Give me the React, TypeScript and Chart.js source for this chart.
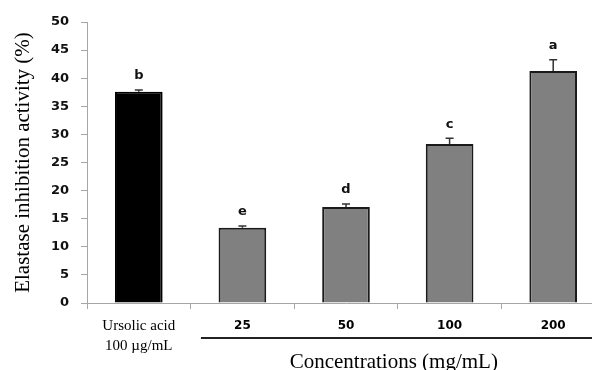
import React, { useEffect, useRef } from "react";
import { Chart, registerables } from "chart.js";

Chart.register(...registerables);

const categories: (string | string[])[] = [["Ursolic acid", "100 µg/mL"], "25", "50", "100", "200"];
const values = [37.6, 13.4, 17.1, 28.3, 41.3];
const errors = [0.3, 0.3, 0.5, 1.0, 2.0];
const letters = ["b", "e", "d", "c", "a"];
const barColors = ["#000000", "#808080", "#808080", "#808080", "#808080"];
const yTitle = "Elastase inhibition activity (%)";
const xTitle = "Concentrations (mg/mL)";

const annotPlugin = {
  id: "annot",
  afterDatasetsDraw(chart: any) {
    const ctx = chart.ctx;
    const meta = chart.getDatasetMeta(0);
    const y = chart.scales.y;
    meta.data.forEach((bar: any, i: number) => {
      const top = y.getPixelForValue(values[i]);
      const cap = y.getPixelForValue(values[i] + errors[i]);
      ctx.save();
      ctx.strokeStyle = "#333";
      ctx.lineWidth = 1.5;
      ctx.beginPath();
      ctx.moveTo(bar.x, top);
      ctx.lineTo(bar.x, cap);
      ctx.moveTo(bar.x - 4, cap);
      ctx.lineTo(bar.x + 4, cap);
      ctx.stroke();
      ctx.fillStyle = "#111";
      ctx.font = 'bold 13px "DejaVu Sans"';
      ctx.textAlign = "center";
      ctx.textBaseline = "middle";
      ctx.fillText(letters[i], bar.x, cap - 14);
      ctx.restore();
    });
  },
  afterDraw(chart: any) {
    const ctx = chart.ctx;
    const x = chart.scales.x;
    const cw = x.getPixelForValue(2) - x.getPixelForValue(1);
    const start = x.getPixelForValue(1) - 0.4 * cw;
    ctx.save();
    ctx.strokeStyle = "#222";
    ctx.lineWidth = 2;
    ctx.beginPath();
    ctx.moveTo(start, 338);
    ctx.lineTo(chart.width, 338);
    ctx.stroke();
    ctx.fillStyle = "#000";
    ctx.font = '21px "Liberation Serif"';
    ctx.textAlign = "center";
    ctx.textBaseline = "middle";
    ctx.fillText(xTitle, (x.getPixelForValue(2) + x.getPixelForValue(3)) / 2 - 4, 362);
    ctx.restore();
  },
};

export default function App() {
  const ref = useRef<HTMLCanvasElement>(null);
  useEffect(() => {
    document.body.style.margin = "0";
    const chart = new Chart(ref.current!, {
      type: "bar",
      data: {
        labels: categories as any,
        datasets: [
          {
            data: values,
            backgroundColor: barColors,
            borderColor: ["#000000", "#1a1a1a", "#1a1a1a", "#1a1a1a", "#1a1a1a"],
            borderWidth: 2,
            barPercentage: 0.46,
            categoryPercentage: 1,
          },
        ],
      },
      options: {
        responsive: false,
        animation: false,
        devicePixelRatio: 1,
        layout: { padding: { top: 22, right: 5, left: 0, bottom: 0 } },
        plugins: { legend: { display: false }, tooltip: { enabled: false } },
        scales: {
          x: {
            offset: true,
            grid: { drawOnChartArea: false, drawTicks: true, tickLength: 6, color: "#a6a6a6", offset: true },
            border: { color: "#a6a6a6", width: 1 },
            ticks: {
              padding: 7,
              color: "#000",
              maxRotation: 0,
              autoSkip: false,
              font: (c: any) =>
                c.index === 0
                  ? { family: '"Liberation Serif"', size: 15, weight: "normal", lineHeight: "20px" }
                  : { family: '"DejaVu Sans"', size: 12, weight: "bold", lineHeight: "20px" },
            },
            afterFit: (s: any) => {
              s.height = 67;
            },
          },
          y: {
            min: 0,
            max: 50,
            grid: { drawOnChartArea: false, drawTicks: true, tickLength: 6, color: "#a6a6a6" },
            border: { color: "#a6a6a6", width: 1 },
            ticks: {
              stepSize: 5,
              padding: 12,
              color: "#111",
              font: { family: '"DejaVu Sans"', size: 13, weight: "bold" },
            },
            title: {
              display: true,
              text: yTitle,
              color: "#000",
              font: { family: '"Liberation Serif"', size: 21, weight: "normal" },
              padding: { top: 11, bottom: 0 },
            },
            afterFit: (s: any) => {
              s.width = 87;
            },
          },
        },
      },
      plugins: [annotPlugin],
    });
    return () => chart.destroy();
  }, []);
  return (
    <div style={{ position: "fixed", left: 0, top: 0, width: 592, height: 370, overflow: "hidden", background: "#fff" }}>
      <canvas ref={ref} width={610} height={370} style={{ display: "block" }} />
    </div>
  );
}
